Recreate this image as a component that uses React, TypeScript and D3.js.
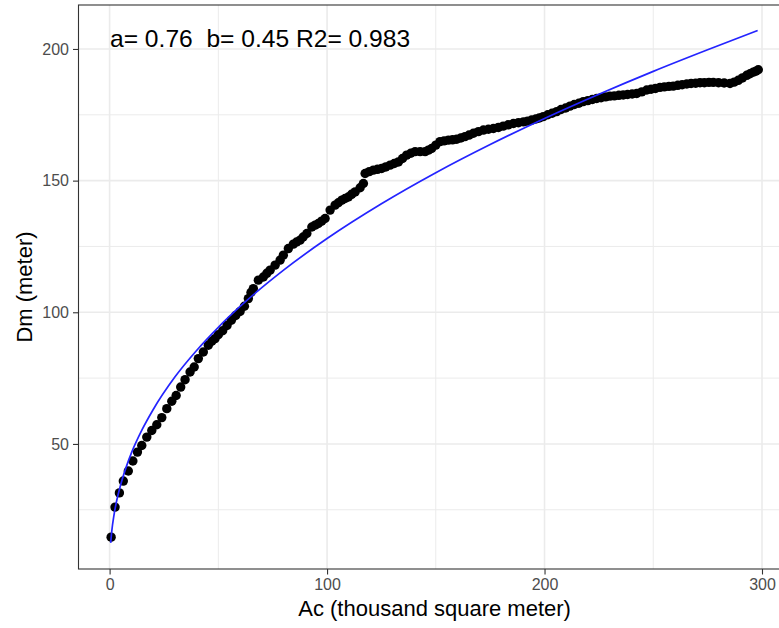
import { useEffect, useRef } from 'react';
import * as d3 from 'd3';

// observed points (Ac in thousand m2, Dm in m)
const acValues = [
  0.7, 2.5, 4.5, 6.3, 8.6, 10.7, 12.8, 14.8, 17.1, 19.4, 21.7, 24, 26.3, 28.6, 30.6, 32.7, 34.7, 37, 38.9, 40.8,
  43.1, 45.4, 47, 48.5, 50, 52, 54, 56, 58, 60, 62, 63.8, 65, 66.1, 68.4, 70.7, 72.3, 73.8, 76.1, 78.4,
  79.9, 82.2, 84.5, 86, 87.6, 89, 90.7, 93, 94.5, 96, 97.5, 99.1, 101.4, 103.7, 105.2, 106.8, 108.3, 109.8, 111.3, 112.9,
  115.2, 116.7, 117.5, 119.4, 121.3, 123.2, 125.1, 127, 129, 130.9, 132.8, 134.7, 136.6, 138.5, 140.5, 142.8, 145.1, 146.6, 148.1, 150,
  151.9, 153.8, 155.8, 157.7, 159.6, 161.5, 163.4, 165.3, 167.3, 169.6, 171.9, 174.2, 176.5, 178.8, 181, 183.3, 185.7, 188, 190.3, 192.2,
  194.1, 196, 197.6, 199.4, 201.5, 203.5, 205.6, 207.6, 209.7, 211.7, 213.7, 215.8, 217.8, 219.9, 222, 224, 226, 228.1, 230.1, 232.1,
  234.2, 236.2, 238.2, 240.3, 242.4, 244.7, 247, 249, 251, 253.1, 255.1, 257.2, 259.2, 261.3, 263.3, 265.4, 267.4, 269.5, 271.5, 273.5,
  275.6, 277.6, 280, 282.6, 285.3, 287.2, 289.1, 291, 293, 294.5, 296, 297.2, 298.3,
];
const dmValues = [
  14.6, 26, 31.4, 35.9, 39.7, 43.5, 46.9, 49.4, 52.6, 55.1, 57.3, 60, 63.4, 66.2, 68.4, 71.6, 74.4, 77.3, 79.2, 82.4,
  84.9, 87.5, 89, 90, 91.5, 93, 95, 97, 98.8, 100.3, 102.3, 105.2, 107.5, 109, 112.2, 113.4, 114.8, 116, 117.9, 119.8,
  121.7, 124.2, 125.9, 126.7, 127.4, 128.6, 129.9, 132.4, 133.1, 133.7, 134.6, 135.6, 138.8, 140.7, 141.6, 142.6, 143.2, 143.8, 144.8, 145.7,
  147.3, 148.9, 152.7, 153.4, 154, 154.3, 154.6, 155.2, 155.9, 156.5, 157.1, 158.4, 159.7, 160.4, 161, 161, 161, 161.6, 162.2, 163.5,
  164.8, 165.1, 165.4, 165.5, 165.7, 166.2, 166.7, 167.3, 168, 168.6, 169.2, 169.5, 169.8, 170.2, 170.7, 171.2, 171.7, 172, 172.3, 172.6,
  173, 173.4, 173.8, 174.3, 175, 175.6, 176.2, 177, 177.6, 178.3, 178.9, 179.4, 180, 180.4, 180.8, 181.2, 181.5, 181.8, 182.1, 182.2,
  182.4, 182.5, 182.7, 182.9, 183.1, 183.7, 184.4, 184.7, 185, 185.4, 185.6, 185.8, 185.9, 186.2, 186.4, 186.7, 186.9, 187, 187.2, 187.2,
  187.3, 187.3, 187.2, 187.1, 186.9, 187.4, 188.1, 189, 190, 190.6, 191.2, 191.6, 192.1,
];

// fitted curve
const fitAc = [0.5, 1, 2, 3, 5, 7.5, 10, 15, 20, 30, 40, 50, 60, 80, 100, 125, 150, 175, 200, 225, 250, 275, 298];
const fitDm = [12.4, 16.9, 22.9, 27.4, 34.2, 40.9, 46.5, 55.5, 63, 75.4, 85.5, 94.3, 102.2, 116, 128, 141.2, 153, 163.7, 173.6, 182.8, 191.5, 199.7, 207];

const xTicks = [0, 100, 200, 300];
const xMinor = [50, 150, 250];
const yTicks = [50, 100, 150, 200];
const yMinor = [25, 75, 125, 175];

const label = 'a= 0.76  b= 0.45 R2= 0.983';

const App = () => {
  const ref = useRef<SVGSVGElement>(null);

  useEffect(() => {
    const svg = d3.select(ref.current);
    svg.selectAll('*').remove();

    const left = 78.5, right = 790.7, top = 5, bottom = 569;
    const x = d3.scaleLinear().domain([-14.3, 313.2]).range([left, right]);
    const y = d3.scaleLinear().domain([2.5, 216.7]).range([bottom, top]);

    svg.append('rect').attr('x', left).attr('y', top).attr('width', right - left).attr('height', bottom - top).attr('fill', 'white');

    // grid
    const grid = svg.append('g').attr('stroke', '#EBEBEB');
    grid.selectAll('.xm').data(xMinor).enter().append('line')
      .attr('x1', (d) => x(d)).attr('x2', (d) => x(d)).attr('y1', top).attr('y2', bottom).attr('stroke-width', 1);
    grid.selectAll('.ym').data(yMinor).enter().append('line')
      .attr('y1', (d) => y(d)).attr('y2', (d) => y(d)).attr('x1', left).attr('x2', right).attr('stroke-width', 1);
    grid.selectAll('.xj').data(xTicks).enter().append('line')
      .attr('x1', (d) => x(d)).attr('x2', (d) => x(d)).attr('y1', top).attr('y2', bottom).attr('stroke-width', 1.6);
    grid.selectAll('.yj').data(yTicks).enter().append('line')
      .attr('y1', (d) => y(d)).attr('y2', (d) => y(d)).attr('x1', left).attr('x2', right).attr('stroke-width', 1.6);

    // points
    const pts = acValues.map((a, i) => [a, dmValues[i]]);
    svg.append('g').selectAll('circle').data(pts).enter().append('circle')
      .attr('cx', (d) => x(d[0])).attr('cy', (d) => y(d[1])).attr('r', 4.7).attr('fill', 'black');

    // fit line
    const line = d3.line<number>().x((d) => x(d)).y((_, i) => y(fitDm[i])).curve(d3.curveMonotoneX);
    svg.append('path').attr('d', line(fitAc)).attr('fill', 'none').attr('stroke', '#2424FF').attr('stroke-width', 1.7);

    svg.append('text').attr('x', 110).attr('y', 47).attr('font-size', 24.6).attr('fill', 'black')
      .style('white-space', 'pre').text(label);

    // border
    svg.append('rect').attr('x', left).attr('y', top).attr('width', right - left).attr('height', bottom - top)
      .attr('fill', 'none').attr('stroke', '#333333').attr('stroke-width', 1.1);

    // axes
    const xa = svg.append('g').attr('transform', `translate(0,${bottom})`)
      .call(d3.axisBottom(x).tickValues(xTicks).tickSize(5.5).tickPadding(4).tickFormat(d3.format('d')));
    const ya = svg.append('g').attr('transform', `translate(${left},0)`)
      .call(d3.axisLeft(y).tickValues(yTicks).tickSize(5.5).tickPadding(4).tickFormat(d3.format('d')));
    [xa, ya].forEach((g) => {
      g.select('.domain').remove();
      g.selectAll('line').attr('stroke', '#333333').attr('stroke-width', 1.1);
      g.selectAll('text').attr('fill', '#4D4D4D').attr('font-size', 16).attr('font-family', 'Liberation Sans, Arial, sans-serif');
    });

    svg.append('text').attr('x', (left + right) / 2).attr('y', 616).attr('text-anchor', 'middle')
      .attr('font-size', 22).text('Ac (thousand square meter)');
    svg.append('text').attr('transform', `translate(32,${(top + bottom) / 2}) rotate(-90)`).attr('text-anchor', 'middle')
      .attr('font-size', 22).text('Dm (meter)');
  }, []);

  return (
    <svg
      ref={ref}
      width={779}
      height={628}
      fontFamily='Liberation Sans, Arial, sans-serif'
      style={{ position: 'absolute', left: 0, top: 0, background: 'white' }}
    ></svg>
  );
};

export default App;
